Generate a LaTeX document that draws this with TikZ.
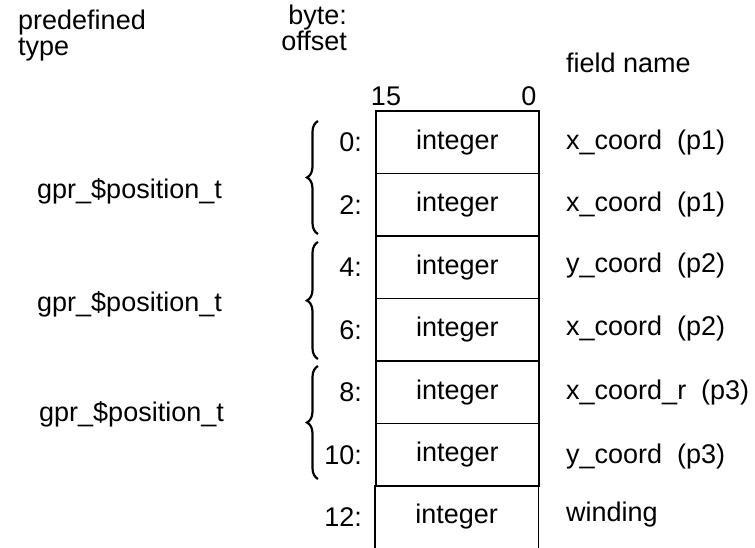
\documentclass[tikz,border=0pt]{standalone}
\usepackage{fontspec}
\setmainfont{Liberation Sans}
\usetikzlibrary{decorations.pathreplacing}
\begin{document}
\begin{tikzpicture}[x=1pt,y=-1pt,
  every node/.style={font=\fontsize{27}{26}\selectfont, inner sep=0pt},
  cell/.style={draw, line width=1.8pt, minimum width=163pt, minimum height=62.5pt, anchor=north west},
  opencell/.style={minimum width=163pt, minimum height=62.5pt, anchor=north west},
  off/.style={anchor=base east},
  fname/.style={anchor=base west},
  ptype/.style={anchor=base west},
  grp/.style={decorate, decoration={brace, amplitude=11pt}, line width=2.2pt}]
\useasboundingbox (0,0) rectangle (755,547);
% headers
\node[anchor=base west, align=left] (hdrtype) at (18,55) {predefined\\type};
\node[anchor=base east, align=right] (hdroff) at (347,50) {byte:\\offset};
\node[anchor=base west] (hdrfield) at (566,72) {field name};
\node[anchor=base] (b15) at (386,105) {15};
\node[anchor=base] (b0) at (529,105) {0};
% cells
\node[cell] (c0) at (375,110) {integer};
\node[cell] (c1) at (375,172.5) {integer};
\node[cell] (c2) at (375,235) {integer};
\node[cell] (c3) at (375,297.5) {integer};
\node[cell] (c4) at (375,360) {integer};
\node[cell] (c5) at (375,422.5) {integer};
\node[opencell] (c6) at (375,485) {integer};
\draw[line width=1.8pt] (c6.north west) -- (c6.south west);
\draw[line width=1.8pt] (c6.north east) -- (c6.south east);
% offsets
\node[off] (o0) at (362,151) {0:};
\node[off] (o1) at (362,214) {2:};
\node[off] (o2) at (362,276) {4:};
\node[off] (o3) at (362,339) {6:};
\node[off] (o4) at (362,401) {8:};
\node[off] (o5) at (362,464) {10:};
\node[off] (o6) at (362,526) {12:};
% field names
\node[fname] (f0) at (566,149) {x\_coord\ \ (p1)};
\node[fname] (f1) at (566,211) {x\_coord\ \ (p1)};
\node[fname] (f2) at (566,272) {y\_coord\ \ (p2)};
\node[fname] (f3) at (566,335) {x\_coord\ \ (p2)};
\node[fname] (f4) at (566,399) {x\_coord\_r\ \ (p3)};
\node[fname] (f5) at (566,463) {y\_coord\ \ (p3)};
\node[fname] (f6) at (566,521) {winding};
% braces
\coordinate (g0b) at (318,234);
\coordinate (g0t) at (318,121);
\coordinate (g1b) at (318,359);
\coordinate (g1t) at (318,242);
\coordinate (g2b) at (318,479);
\coordinate (g2t) at (318,366);
\draw[grp] (g0b) -- (g0t);
\draw[grp] (g1b) -- (g1t);
\draw[grp] (g2b) -- (g2t);
% predefined types
\node[ptype] (t0) at (37,198) {gpr\_\$position\_t};
\node[ptype] (t1) at (37,311) {gpr\_\$position\_t};
\node[ptype] (t2) at (39,421) {gpr\_\$position\_t};
\end{tikzpicture}
\end{document}
